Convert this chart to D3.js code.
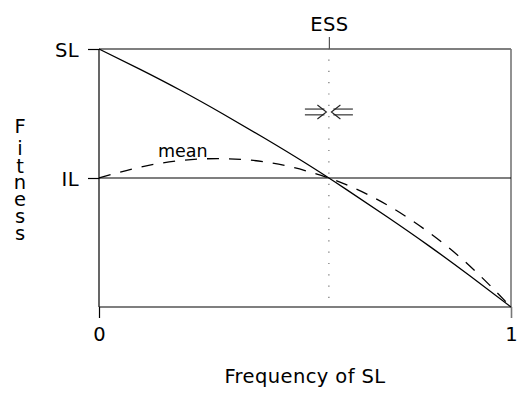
<!DOCTYPE html>
<html>
<head>
<meta charset="utf-8">
<script src="https://cdn.jsdelivr.net/npm/d3@7"></script>
<style>
  body { margin: 0; background: #fff; }
  text { font-family: "DejaVu Sans", sans-serif; fill: #000; }
</style>
</head>
<body>
<div id="chart"></div>
<script>
// frequency of SL (x) and fitness values
var freq = [0, 0.1, 0.2, 0.3, 0.4, 0.5, 0.6, 0.7, 0.8, 0.9, 1]
var fitnessSL = [1, 0.921, 0.838, 0.749, 0.656, 0.559, 0.456, 0.349, 0.238, 0.121, 0]
var fitnessMean = [0.5, 0.542, 0.568, 0.575, 0.563, 0.529, 0.474, 0.395, 0.290, 0.159, 0]
var fitnessIL = [0.5, 0.5]
var ESS = 0.558
var ARROW_LEVEL = 0.756
var yTickValues = [1, 0.5]
var yTickLabels = ['SL', 'IL']
var xTickValues = [0, 1]
var xTickLabels = ['0', '1']

var WIDTH = 520
var HEIGHT = 393
var margin = {top: 49, right: 9, bottom: 86, left: 99}
var width = WIDTH - margin.left - margin.right
var height = HEIGHT - margin.top - margin.bottom

var svg = d3.select('#chart').append('svg')
  .attr('width', WIDTH)
  .attr('height', HEIGHT)

var g = svg.append('g')
  .attr('transform', 'translate(' + margin.left + ',' + margin.top + ')')

var xScale = d3.scaleLinear().domain([0, 1]).range([0, width])
var yScale = d3.scaleLinear().domain([0, 1]).range([height, 0])

// frame: top, bottom, left black, right grey
g.append('line').attr('x1', 0).attr('x2', width).attr('y1', 0).attr('y2', 0)
  .attr('stroke', '#000').attr('stroke-width', 1.2)
g.append('line').attr('x1', 0).attr('x2', width).attr('y1', height).attr('y2', height)
  .attr('stroke', '#000').attr('stroke-width', 1.2)
g.append('line').attr('x1', 0).attr('x2', 0).attr('y1', 0).attr('y2', height)
  .attr('stroke', '#000').attr('stroke-width', 1.2)
g.append('line').attr('x1', width).attr('x2', width).attr('y1', 0).attr('y2', height)
  .attr('stroke', '#777').attr('stroke-width', 1.6)

// y axis (left)
var yAxis = g.append('g')
  .call(d3.axisLeft(yScale).tickValues(yTickValues)
    .tickFormat(function(d, i) { return yTickLabels[i] })
    .tickSize(11).tickPadding(9))
yAxis.select('.domain').remove()
yAxis.selectAll('.tick line').attr('stroke', '#000').attr('stroke-width', 1.2)
yAxis.selectAll('.tick text')
  .style('font-size', '19.5px').style('letter-spacing', '0.4px')
  .attr('dy', '0.36em')

// x axis (bottom)
var xAxis = g.append('g')
  .attr('transform', 'translate(0,' + height + ')')
  .call(d3.axisBottom(xScale).tickValues(xTickValues)
    .tickFormat(function(d, i) { return xTickLabels[i] })
    .tickSize(11).tickPadding(9))
xAxis.select('.domain').remove()
xAxis.selectAll('.tick line').attr('stroke', '#000').attr('stroke-width', 1.2)
xAxis.selectAll('.tick:last-of-type line').attr('stroke', '#777').attr('stroke-width', 1.6)
xAxis.selectAll('.tick text').style('font-size', '19.5px')

// ESS on top
var essAxis = g.append('g')
  .call(d3.axisTop(xScale).tickValues([ESS])
    .tickFormat(function() { return 'ESS' })
    .tickSize(12).tickPadding(6))
essAxis.select('.domain').remove()
essAxis.selectAll('.tick line').attr('stroke', '#555').attr('stroke-width', 1.2)
essAxis.selectAll('.tick text').style('font-size', '19.5px').style('letter-spacing', '0.4px')

// dotted ESS line
g.append('line')
  .attr('x1', xScale(ESS)).attr('x2', xScale(ESS))
  .attr('y1', 0).attr('y2', height)
  .attr('stroke', '#666').attr('stroke-width', 1.1)
  .attr('stroke-dasharray', '1.2,10.1')
  .attr('stroke-dashoffset', -10.5)

// IL fitness (horizontal)
g.append('path')
  .datum(fitnessIL)
  .attr('fill', 'none').attr('stroke', '#000').attr('stroke-width', 1.2)
  .attr('d', d3.line()
    .x(function(d, i) { return xScale(xTickValues[i]) })
    .y(function(d) { return yScale(d) }))

var curve = d3.line()
  .curve(d3.curveNatural)
  .x(function(d, i) { return xScale(freq[i]) })
  .y(function(d) { return yScale(d) })

// SL fitness
g.append('path')
  .datum(fitnessSL)
  .attr('fill', 'none').attr('stroke', '#000').attr('stroke-width', 1.3)
  .attr('d', curve)

// mean fitness
g.append('path')
  .datum(fitnessMean)
  .attr('fill', 'none').attr('stroke', '#000').attr('stroke-width', 1.3)
  .attr('stroke-dasharray', '12,10')
  .attr('d', curve)

g.append('text')
  .attr('x', xScale(0.143))
  .attr('y', yScale(0.58))
  .style('font-size', '17.5px')
  .text('mean')

// converging arrows at the ESS
var ax = xScale(ESS)
var ay = yScale(ARROW_LEVEL)
function doubleArrow(dir) {
  var tip = ax - dir * 2.5
  var tail = ax - dir * 24
  var a = g.append('g').attr('stroke', '#222').attr('stroke-width', 1.1).attr('fill', 'none')
  a.append('line').attr('x1', tail).attr('x2', tip - dir * 2).attr('y1', ay - 2.9).attr('y2', ay - 2.9)
  a.append('line').attr('x1', tail).attr('x2', tip - dir * 2).attr('y1', ay + 2.9).attr('y2', ay + 2.9)
  a.append('path').attr('d', 'M' + (tip - dir * 9) + ',' + (ay - 7) + 'L' + tip + ',' + ay + 'L' + (tip - dir * 9) + ',' + (ay + 7))
}
doubleArrow(1)
doubleArrow(-1)

// stacked y-axis title, one letter per line
var title = 'Fitness'.split('')
var baselines = [133, 155, 173, 189, 206, 223, 240]
svg.append('text')
  .attr('text-anchor', 'middle')
  .style('font-size', '19.5px')
  .selectAll('tspan')
  .data(title)
  .join('tspan')
  .attr('x', 20)
  .attr('y', function(d, i) { return baselines[i] })
  .text(function(d) { return d })

// x-axis title
svg.append('text')
  .attr('x', margin.left + xScale(0.5))
  .attr('y', 383)
  .attr('text-anchor', 'middle')
  .style('font-size', '19.5px')
  .style('letter-spacing', '0.4px')
  .text('Frequency of SL')
</script>
</body>
</html>
